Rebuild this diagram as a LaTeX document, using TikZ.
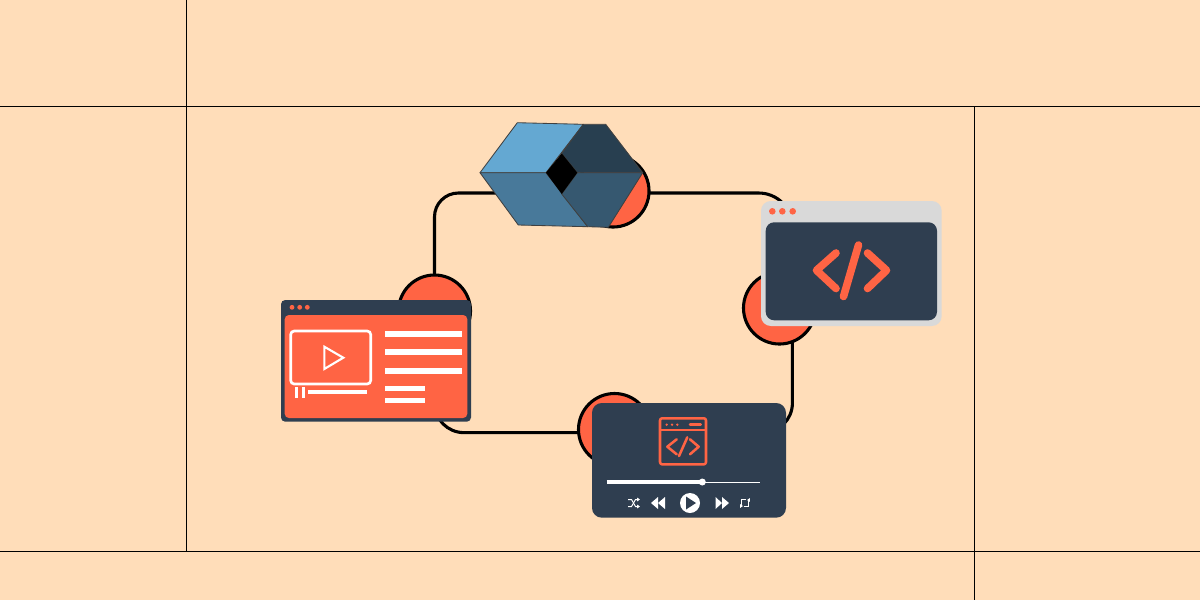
\documentclass[tikz,border=0pt]{standalone}
\usepackage{tikz}
\usetikzlibrary{arrows.meta,positioning}
\definecolor{paper}{HTML}{FFDDB9}
\definecolor{coral}{HTML}{FF6444}
\definecolor{slate}{HTML}{2F3E50}
\definecolor{frame}{HTML}{D9D9D9}
\definecolor{cubeA}{HTML}{64A8D2}
\definecolor{cubeB}{HTML}{283F50}
\definecolor{cubeC}{HTML}{48799A}
\definecolor{cubeD}{HTML}{365870}

\begin{document}
\begin{tikzpicture}[
    x=0.025cm, y=-0.025cm,
    grid/.style={black, line width=0.55pt},
    wire/.style={black, line width=2.2pt},
    dot/.style={circle, draw=black, fill=coral, line width=2.2pt, minimum size=1.8cm, inner sep=0pt, outer sep=0pt},
    face/.style={draw=black!75, line width=0.6pt, line join=round},
    bar/.style={fill=white},
    ink/.style={draw=white, line width=1.9pt},
    code/.style={draw=coral, line width=5.4pt, line join=round, line cap=round},
    icon/.style={draw=coral, line width=1.8pt, line join=round}
]
    \useasboundingbox (0,0) rectangle (1200,600);
    \fill[paper] (0,0) rectangle (1200,600);
    \draw[grid] (186,0) -- (186,551);
    \draw[grid] (974,106) -- (974,600);
    \draw[grid] (0,106) -- (1200,106);
    \draw[grid] (0,551) -- (1200,551);

    \node[dot] (topdot) at (613,191) {};
    \node[dot] (leftdot) at (434.5,311) {};
    \node[dot] (bottomdot) at (614.5,429.5) {};
    \node[dot] (rightdot) at (779.5,308) {};
    \coordinate (cubeleft) at (496,193);
    \draw[wire, rounded corners=17pt] (cubeleft) -| (leftdot.north);
    \draw[wire, rounded corners=24pt] (topdot.east |- cubeleft) -| (rightdot.69);
    \draw[wire, rounded corners=21pt] (rightdot.-69) |- (bottomdot.-5);
    \draw[wire, rounded corners=21pt] (bottomdot.-175) -| (leftdot.south);

    \draw[face, fill=cubeA] (517.3,122.7) -- (583.3,124.3) -- (546,172.7) -- (480,172.7) -- cycle;
    \draw[face, fill=cubeB] (583.3,124.3) -- (605.7,124.3) -- (642.7,172.7) -- (577.3,172.7) -- (561.7,153.3) -- cycle;
    \draw[face, fill=cubeC] (480,172.7) -- (546,172.7) -- (587.7,226.7) -- (518.3,225) -- cycle;
    \draw[face, fill=cubeD] (577.3,172.7) -- (642.7,172.7) -- (608.3,227.3) -- (587.7,226.7) -- (561.7,194) -- cycle;
    \fill[black] (546,172.7) -- (561.7,153.3) -- (577.3,172.7) -- (561.7,194) -- cycle;

    \fill[slate, rounded corners=3pt] (281,300) rectangle (471,421.7);
    \fill[coral, rounded corners=3pt] (284.7,315) rectangle (467.3,418);
    \foreach \x in {292,299.7,307.3} \fill[coral] (\x,307.3) circle (2.4);
    \draw[ink, rounded corners=2.5pt] (290.7,331) rectangle (370.7,384);
    \draw[ink, line width=1.5pt] (324.3,346.7) -- (343.3,357.7) -- (324.3,369) -- cycle;
    \fill[bar] (295,387) rectangle (298,397.7);
    \fill[bar] (301.7,387) rectangle (304.7,397.7);
    \fill[bar] (307.7,390.3) rectangle (367.3,394);
    \foreach \y in {331,349.3,368.3} \fill[bar] (385,\y) rectangle (461.7,\y+5.7);
    \foreach \y in {385.7,397.7} \fill[bar] (385,\y) rectangle (425,\y+5.3);

    \fill[slate, rounded corners=7pt] (592,403) rectangle (786,517.7);
    \draw[icon, rounded corners=1.5pt] (660,418.3) rectangle (706,464.3);
    \draw[icon] (660,430) -- (706,430);
    \foreach \x in {666.7,672,677.3} \fill[coral] (\x,424.7) circle (1.3);
    \draw[icon, line cap=round] (690,424.7) -- (700.7,424.7);
    \draw[icon, line cap=round] (676.7,439.3) -- (667.3,446.7) -- (676.7,454.3);
    \draw[icon, line cap=round] (690,439.3) -- (698.7,446.7) -- (690,454.3);
    \draw[icon, line cap=round] (687.3,437.3) -- (679,456);
    \draw[white, line width=0.7pt] (702,482) -- (760,482);
    \draw[white, line width=2.2pt] (606.7,482) -- (702.3,482);
    \fill[white] (702.3,482) circle (3.5);
    \fill[white] (690,503) circle (10);
    \fill[slate] (686,496.5) -- (696,503) -- (686,509.5) -- cycle;
    \fill[white] (651,503) -- (658,497) -- (658,509) -- cycle;
    \fill[white] (658,503) -- (665,497) -- (665,509) -- cycle;
    \fill[white] (729,503) -- (722,497) -- (722,509) -- cycle;
    \fill[white] (722,503) -- (715.5,497) -- (715.5,509) -- cycle;
    \draw[white, line width=0.7pt, -{Latex[length=2pt,width=3pt]}] (628,499.5) -- (631.5,499.5) -- (635.5,506.5) -- (640,506.5);
    \draw[white, line width=0.7pt, -{Latex[length=2pt,width=3pt]}] (628,506.5) -- (631.5,506.5) -- (635.5,499.5) -- (640,499.5);
    \draw[white, line width=0.9pt, -{Latex[length=2pt,width=3pt]}] (746,499.5) -- (741.5,499.5) -- (741.5,506) -- (743,506);
    \draw[white, line width=0.9pt, -{Latex[length=2pt,width=3pt]}] (743.5,506.5) -- (748.5,506.5) -- (748.5,500) -- (747,500);

    \fill[frame, rounded corners=7pt] (761,201) rectangle (941.7,326);
    \fill[slate, rounded corners=6pt] (765.7,222.3) rectangle (937,320.3);
    \foreach \x in {772.3,782.3,792.7} \fill[coral] (\x,211.3) circle (3.3);
    \draw[code] (836,253) -- (816.5,270.3) -- (836,288.5);
    \draw[code] (867.5,253) -- (886.5,270.3) -- (867.5,288.5);
    \draw[code] (858.5,245) -- (843.5,296.5);
\end{tikzpicture}
\end{document}
